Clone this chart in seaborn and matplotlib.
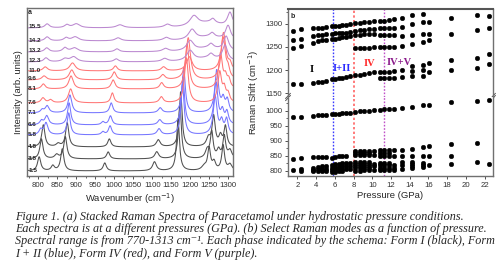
import numpy as np
import pandas as pd
import matplotlib
matplotlib.use('Agg')
import matplotlib.pyplot as plt
import seaborn as sns

# ---- panel a: stacked spectra (peak tables) ----
spec_labels = ['1.5', '3.8', '4.8', '5.8', '6.6', '7.1', '7.6', '8.1', '9.6', '11.0', '12.3', '13.2', '14.2', '15.5']
spec_offsets = [5, 17, 29, 41, 51, 63, 73, 87, 96, 105, 114, 124, 135, 148]
spec_colors = ['#505050'] * 3 + ['#7676ff'] * 3 + ['#ff7676'] * 4 + ['#bb88d0'] * 4
# (centre cm-1, height, half width)
spec_peaks = [
    [(802, 14, 5), (838, 5, 5), (863, 22, 5), (975, 8, 5), (1106, 9, 6), (1168, 52, 4.5),
     (1237, 4, 8), (1250, 22, 4.5), (1263, 8, 5), (1287, 25, 4.5), (1305, 6, 6)],
    [(808, 20, 5), (848, 4, 6), (871, 22, 5), (984, 7, 5), (1112, 7, 6), (1173, 55, 4.5),
     (1245, 8, 6), (1257, 26, 4.5), (1275, 8, 5), (1290, 22, 4.5), (1305, 8, 6)],
    [(813, 22, 5), (852, 3, 6), (876, 24, 5), (987, 8, 5), (1116, 7, 6), (1175, 55, 4.5),
     (1248, 8, 6), (1262, 30, 5), (1280, 10, 5), (1293, 20, 4.5)],
    [(806, 5, 5), (820, 12, 6), (880, 22, 5), (970, 3, 5), (989, 9, 5), (1118, 6, 6),
     (1180, 50, 5), (1266, 38, 6), (1283, 12, 5), (1296, 15, 5)],
    [(808, 4, 5), (822, 9, 6), (881, 22, 5), (970, 3, 5), (990, 9, 5), (1120, 5, 6),
     (1181, 48, 5), (1268, 42, 6), (1285, 12, 5), (1297, 12, 5)],
    [(810, 3, 5), (823, 7, 6), (883, 18, 6), (992, 10, 5), (1121, 5, 6), (1183, 45, 5),
     (1270, 42, 6), (1287, 12, 5), (1298, 12, 5)],
    [(812, 5, 6), (832, 3, 6), (885, 14, 7), (995, 10, 5), (1124, 6, 6), (1190, 45, 6),
     (1278, 30, 6), (1290, 12, 5), (1300, 8, 5)],
    [(813, 5, 6), (886, 13, 7), (997, 9, 6), (1125, 6, 6), (1192, 45, 6), (1280, 35, 6),
     (1293, 10, 5), (1302, 8, 5)],
    [(815, 4, 7), (888, 10, 8), (1000, 8, 6), (1128, 5, 7), (1195, 42, 7), (1287, 42, 7), (1300, 8, 5)],
    [(818, 4, 7), (890, 8, 9), (1003, 5, 6), (1130, 4, 7), (1198, 14, 9), (1288, 38, 7), (1305, 6, 5)],
    [(820, 4, 7), (870, 3, 9), (893, 5, 11), (1005, 3, 7), (1133, 3, 9), (1200, 10, 11),
     (1250, 4, 40), (1255, 4, 7), (1292, 15, 8)],
    [(822, 4, 7), (870, 4, 7), (895, 4, 11), (1007, 3, 7), (1135, 3, 9), (1200, 10, 11),
     (1250, 4, 40), (1255, 4, 7), (1295, 14, 8)],
    [(823, 4, 7), (873, 3, 7), (897, 4, 11), (1010, 3, 9), (1137, 3, 9), (1205, 10, 11),
     (1250, 4, 40), (1258, 4, 7), (1300, 14, 8)],
    [(823, 4, 7), (875, 3, 7), (900, 4, 11), (1015, 3, 11), (1140, 3, 9), (1210, 10, 13),
     (1250, 5, 40), (1260, 4, 7), (1305, 14, 8)],
]

# ---- panel b: Raman modes vs pressure ----
pressure = [1.5, 2.4, 3.7, 4.2, 4.6, 5.1, 5.7, 6.0, 6.4, 6.8, 7.2, 7.6, 8.2, 8.7, 9.1, 9.6,
            10.2, 10.8, 11.3, 11.8, 12.3, 13.2, 14.2, 15.4, 16.1, 18.4, 21.2, 22.5]
modes_high = [
    [1285, 1265, 1248, 1170], [1288, 1268, 1253, 1171],
    [1291, 1273, 1259, 1172], [1292, 1275, 1262, 1174], [1292, 1276, 1264, 1175], [1293, 1277, 1266, 1177],
    [1295, 1279, 1267, 1180], [1295, 1280, 1268, 1181], [1296, 1280, 1270, 1183], [1297, 1281, 1271, 1184],
    [1298, 1281, 1272, 1186], [1299, 1283, 1273, 1188],
    [1301, 1285, 1275, 1247, 1189], [1302, 1286, 1276, 1247, 1190],
    [1303, 1287, 1277, 1248, 1192], [1304, 1288, 1278, 1248, 1194],
    [1306, 1289, 1278, 1250, 1196],
    [1307, 1290, 1275, 1250, 1197, 1183], [1307, 1291, 1275, 1250, 1197, 1183],
    [1308, 1291, 1275, 1251, 1197, 1184], [1310, 1292, 1276, 1251, 1198, 1184],
    [1312, 1294, 1274, 1253, 1200, 1185],
    [1320, 1300, 1275, 1256, 1208, 1198, 1187], [1321, 1304, 1277, 1260, 1212, 1200, 1188],
    [1305, 1278, 1266, 1215, 1197],
    [1313, 1279, 1221, 1200], [1318, 1286, 1226, 1205], [1317, 1292, 1234, 1214],
]
modes_low = [
    [977, 838, 802], [980, 841, 806, 800],
    [983, 845, 810, 803, 797], [984, 845, 812, 804, 798], [985, 846, 815, 806, 798], [986, 846, 816, 806, 799],
    [988, 843, 820, 810, 802, 795], [989, 846, 822, 812, 803, 796],
    [990, 848, 823, 813, 804, 797], [991, 849, 824, 814, 805, 798],
    [992, 850, 825, 815, 806], [993, 826, 816, 806],
    [995, 865, 858, 851, 828, 821, 814, 807, 800], [997, 865, 858, 851, 828, 821, 814, 807, 800],
    [998, 866, 859, 852, 829, 822, 815, 808, 801], [1000, 866, 859, 852, 829, 822, 815, 808, 801],
    [1002, 866, 852, 822, 815, 801],
    [1003, 867, 858, 850, 825, 818, 810, 802], [1004, 867, 858, 850, 825, 818, 810, 802],
    [1004, 868, 858, 850, 826, 818, 810, 803], [1005, 868, 850, 818, 810, 803],
    [1007, 870, 850, 828, 818, 805], [1013, 873, 850, 830, 822, 815, 808],
    [1018, 879, 850, 825, 818, 812], [1020, 881, 849, 818],
    [1027, 890, 850, 822], [1031, 892, 827], [1034, 822],
]
phase_lines = [5.8, 8.05, 11.3]
phase_line_colors = ['#3a3aff', '#ff7a7a', '#c050c8']
phase_names = ['I', 'I+II', 'IV', 'IV+V']
phase_pos = [(3.5, 1202), (6.8, 1204), (9.7, 1215), (12.9, 1217)]
phase_colors = ['black', '#2a2aff', '#ff2a2a', '#8a1a8a']

caption = ("Figure 1. (a) Stacked Raman Spectra of Paracetamol under hydrostatic pressure conditions.\n"
           "Each spectra is at a different pressures (GPa). (b) Select Raman modes as a function of pressure.\n"
           "Spectral range is from 770-1313 cm\u207b\u00b9. Each phase indicated by the schema: Form I (black), Form\n"
           "I + II (blue), Form IV (red), and Form V (purple).")

sns.set_style('ticks')
plt.rcParams['font.family'] = ['Liberation Sans', 'DejaVu Sans']
plt.rcParams['axes.edgecolor'] = '#707070'
plt.rcParams['axes.linewidth'] = 1.0

fig = plt.figure(figsize=(5.04, 2.77), dpi=100)
ax_a = fig.add_axes([27 / 504, 1 - 176 / 277, 206 / 504, 168 / 277])
ax_hi = fig.add_axes([288 / 504, 1 - 97 / 277, 205 / 504, 88 / 277])
ax_lo = fig.add_axes([288 / 504, 1 - 176 / 277, 205 / 504, 79 / 277])

# build spectra table
wn = np.linspace(770, 1313, 1400)
rows = []
for lab, off, peaks in zip(spec_labels, spec_offsets, spec_peaks):
    y = np.full_like(wn, float(off))
    for c, h, w in peaks:
        y += h / (1 + ((wn - c) / w) ** 2)
    rows.append(pd.DataFrame({'wn': wn, 'I': y, 'P': lab}))
spec = pd.concat(rows, ignore_index=True)

sns.lineplot(data=spec, x='wn', y='I', hue='P', palette=dict(zip(spec_labels, spec_colors)),
             estimator=None, sort=False, lw=0.75, legend=False, ax=ax_a)
for lab, off in zip(spec_labels, spec_offsets):
    ax_a.text(773, off + 1, lab, fontsize=4.6, fontweight='bold', va='center', ha='left')
ax_a.text(773, 163, 'a', fontsize=5, fontweight='bold', va='center', ha='left')
ax_a.set_xlim(770, 1313)
ax_a.set_ylim(0, 168)
ax_a.set_yticks([])
ax_a.set_xticks(range(800, 1301, 50))
ax_a.set_xticks(range(775, 1313, 25), minor=True)
ax_a.tick_params(axis='x', labelsize=5.6, length=2.5, width=0.6, pad=1.5, colors='#333333')
ax_a.tick_params(axis='x', which='minor', length=1.5, width=0.5)
ax_a.set_xlabel('Wavenumber (cm$^{-1}$)', fontsize=6.8, labelpad=2)
ax_a.set_ylabel('Intensity (arb. units)', fontsize=6.8, labelpad=3)

# panel b scatter, split over the broken axis
pts_hi = pd.DataFrame([(p, v) for p, vs in zip(pressure, modes_high) for v in vs], columns=['P', 'shift'])
pts_lo = pd.DataFrame([(p, v) for p, vs in zip(pressure, modes_low) for v in vs], columns=['P', 'shift'])
for ax, d in [(ax_hi, pts_hi), (ax_lo, pts_lo)]:
    sns.scatterplot(data=d, x='P', y='shift', color='black', s=11, edgecolor='black', linewidth=0.3,
                    legend=False, ax=ax, zorder=3)
    for xl, cl in zip(phase_lines, phase_line_colors):
        ax.axvline(xl, color=cl, ls=(0, (1.2, 1.2)), lw=1.4 if cl == '#ff7a7a' else 1.0, zorder=2)
    ax.set_xlim(1.0, 22.9)
    ax.set_xticks(range(2, 23, 2))
    ax.set_xlabel('')
    ax.set_ylabel('')
    ax.tick_params(labelsize=5.6, length=2.5, width=0.6, pad=1.5, colors='#333333')
    ax.tick_params(which='minor', length=1.5, width=0.5)

ax_hi.set_ylim(1142, 1332)
ax_hi.set_yticks([1150, 1200, 1250, 1300])
ax_hi.set_yticks(range(1150, 1332, 25), minor=True)
ax_hi.tick_params(axis='x', bottom=False, labelbottom=False)
ax_hi.spines['bottom'].set_visible(False)
ax_hi.spines['top'].set_color('#555555')
ax_hi.spines['top'].set_linewidth(1.5)

ax_lo.set_ylim(782, 1045)
ax_lo.set_yticks([800, 850, 900, 950, 1000])
ax_lo.set_yticks(range(800, 1045, 25), minor=True)
ax_lo.spines['top'].set_visible(False)
ax_lo.set_xlabel('Pressure (GPa)', fontsize=6.8, labelpad=2)

for (px, py), name, col in zip(phase_pos, phase_names, phase_colors):
    ax_hi.text(px, py, name, color=col, fontsize=7.5, fontweight='bold',
               family='Liberation Serif', ha='center', va='center')
ax_hi.text(0.01, 0.96, 'b', transform=ax_hi.transAxes, fontsize=5, fontweight='bold', va='top')

# break marks on both side spines
for xb in (0, 1):
    for dy in (-0.012, 0.012):
        ax_hi.plot([xb - 0.012, xb + 0.012], [dy - 0.03, dy + 0.03], transform=ax_hi.transAxes,
                   color='#555555', lw=0.7, clip_on=False)

fig.text(254 / 504, 1 - 92 / 277, 'Raman Shift (cm$^{-1}$)', rotation=90, fontsize=6.8,
         ha='center', va='center')

fig.text(15 / 504, 1 - 211 / 277, caption, fontsize=8.7, style='italic',
         family=['Liberation Serif', 'DejaVu Serif'], va='top', ha='left', linespacing=1.02)

fig.savefig('out.png', dpi=100)
